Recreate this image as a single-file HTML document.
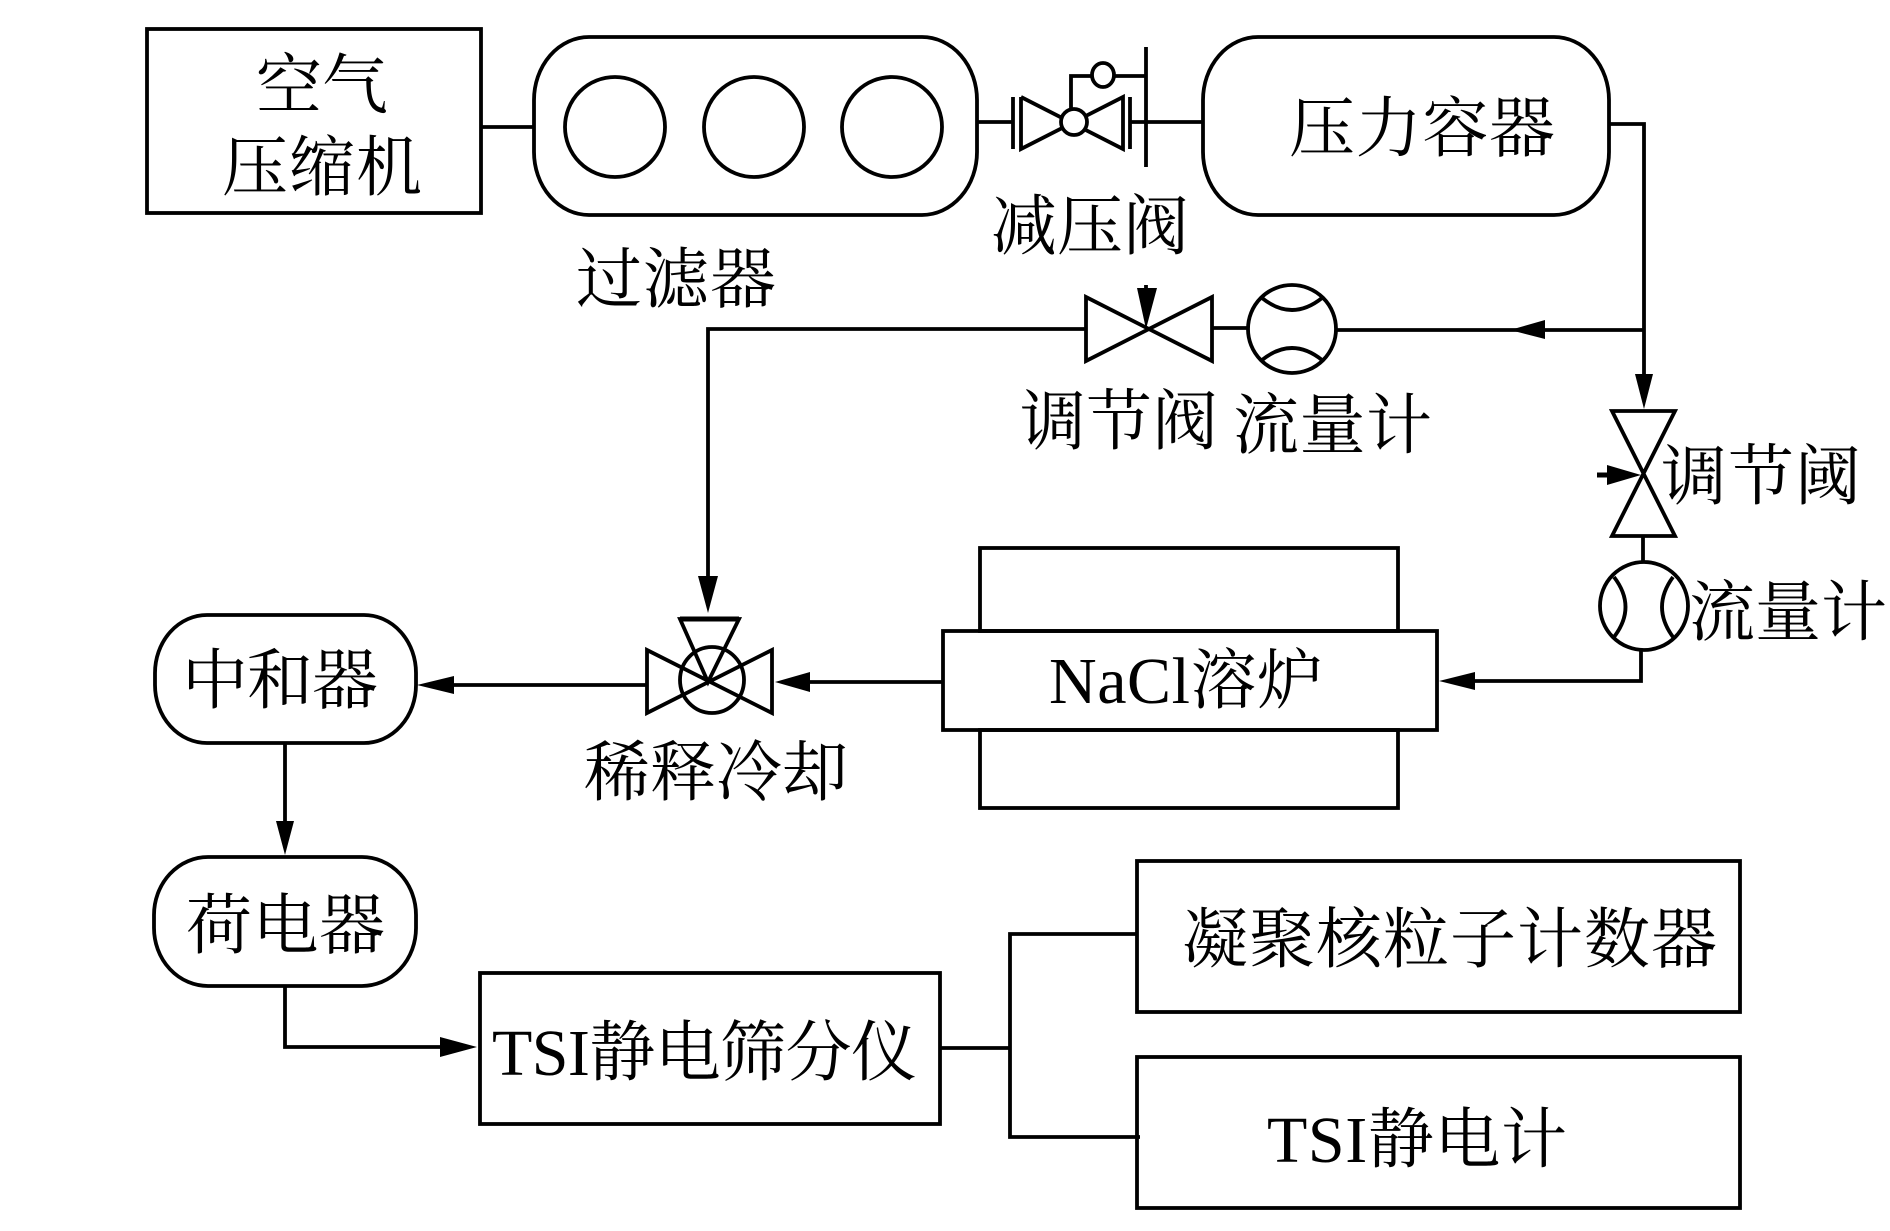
<!DOCTYPE html>
<html><head><meta charset="utf-8"><style>
html,body{margin:0;padding:0;background:#fff;width:1890px;height:1231px;overflow:hidden}
svg{display:block}
text{font-family:"Liberation Serif","Noto Serif CJK SC",serif;font-size:66px;fill:#000}
.s{fill:none;stroke:#000;stroke-width:3.8;stroke-linejoin:miter}
.w{fill:#fff;stroke:#000;stroke-width:3.8}
.a{fill:#000;stroke:none}
</style></head><body>
<svg width="1890" height="1231" viewBox="0 0 1890 1231" xmlns="http://www.w3.org/2000/svg">
<rect x="147" y="29" width="334" height="184" class="s"/>
<path class="s" d="M481 127H534"/>
<path class="s" d="M589 37H922A55 63 0 0 1 977 100V152A55 63 0 0 1 922 215H589A55 63 0 0 1 534 152V100A55 63 0 0 1 589 37Z"/>
<circle class="s" cx="615" cy="127" r="50"/><circle class="s" cx="754" cy="127" r="50"/><circle class="s" cx="892" cy="127" r="50"/>
<path class="s" d="M977 122H1013M1013 97V149M1021 97V149L1123 97V149L1021 97M1130 97V149M1130 122H1203"/>
<path class="s" d="M1071 110V76H1092M1114 76H1146M1146 47V167"/>
<ellipse class="w" cx="1074" cy="122" rx="13" ry="13"/><ellipse class="w" cx="1103" cy="75" rx="11" ry="12"/>
<path class="s" d="M1258 37H1554A55 63 0 0 1 1609 100V152A55 63 0 0 1 1554 215H1258A55 63 0 0 1 1203 152V100A55 63 0 0 1 1258 37Z"/>
<path class="s" d="M1609 124H1644V376"/><polygon class="a" points="1635,374 1653,374 1644,409"/>
<path class="s" d="M1644 330H1337"/><polygon class="a" points="1510,330 1545,320 1545,339"/>
<circle class="s" cx="1292" cy="329" r="44"/>
<path class="s" d="M1262 298Q1292 322 1322 298M1262 360Q1292 336 1322 360M1248 328H1212"/>
<path class="s" d="M1086 297V361L1212 297V361ZM1086 329H708V578"/>
<path class="s" d="M1146 285V310"/><polygon class="a" points="1137,288 1157,288 1146,329"/>
<polygon class="a" points="698,576 718,576 708,613"/>
<path class="s" d="M680 619H739L708 682ZM647 650V713L772 650V713Z"/><ellipse class="s" cx="712" cy="680" rx="32" ry="33"/>
<path d="M680 619H739" stroke="#000" stroke-width="5"/>
<path class="s" d="M647 685H450"/><polygon class="a" points="417,685 454,676 454,694"/>
<path class="s" d="M943 682H808"/><polygon class="a" points="775,682 810,672 810,692"/>
<path class="s" d="M207 615H364A52 58 0 0 1 416 673V685A52 58 0 0 1 364 743H207A52 58 0 0 1 155 685V673A52 58 0 0 1 207 615Z"/>
<path class="s" d="M285 743V825"/><polygon class="a" points="276,821 294,821 285,855"/>
<path class="s" d="M208 857H362A54 58 0 0 1 416 915V928A54 58 0 0 1 362 986H208A54 58 0 0 1 154 928V915A54 58 0 0 1 208 857Z"/>
<path class="s" d="M285 986V1047H445"/><polygon class="a" points="477,1047 440,1037 440,1057"/>
<rect x="480" y="973" width="460" height="151" class="s"/>
<path class="s" d="M940 1048H1010M1137 934H1010V1137H1140"/>
<rect x="1137" y="861" width="603" height="151" class="s"/>
<rect x="1137" y="1057" width="603" height="151" class="s"/>
<path class="s" d="M1612 411H1675L1612 536H1675ZM1643 536V562"/>
<path d="M1597 475H1610" stroke="#000" stroke-width="5"/><polygon class="a" points="1607,465 1641,475 1607,485"/>
<circle class="s" cx="1644" cy="606" r="44"/>
<path class="s" d="M1614 577Q1637 607 1614 637M1673 577Q1651 607 1673 637M1641 651V681H1470"/><polygon class="a" points="1439,681 1475,672 1475,690"/>
<rect x="980" y="548" width="418" height="83" class="s"/>
<rect x="980" y="730" width="418" height="78" class="s"/>
<rect x="943" y="631" width="494" height="99" class="s"/>
<text x="256" y="108" textLength="132">空气</text>
<text x="222" y="190" textLength="200">压缩机</text>
<text x="576" y="302" textLength="200">过滤器</text>
<text x="991" y="249" textLength="198">减压阀</text>
<text x="1289" y="151" textLength="266">压力容器</text>
<text x="1020" y="444" textLength="198">调节阀</text>
<text x="1233" y="448" textLength="199">流量计</text>
<text x="1661" y="499" textLength="200">调节阈</text>
<text x="1689" y="635" textLength="198">流量计</text>
<text x="1049" y="703" textLength="274">NaCl溶炉</text>
<text x="182" y="703" textLength="196">中和器</text>
<text x="584" y="795" textLength="264">稀释冷却</text>
<text x="186" y="948" textLength="199">荷电器</text>
<text x="492" y="1075" textLength="425">TSI静电筛分仪</text>
<text x="1182" y="962" textLength="535">凝聚核粒子计数器</text>
<text x="1267" y="1162" textLength="300">TSI静电计</text>
</svg></body></html>
